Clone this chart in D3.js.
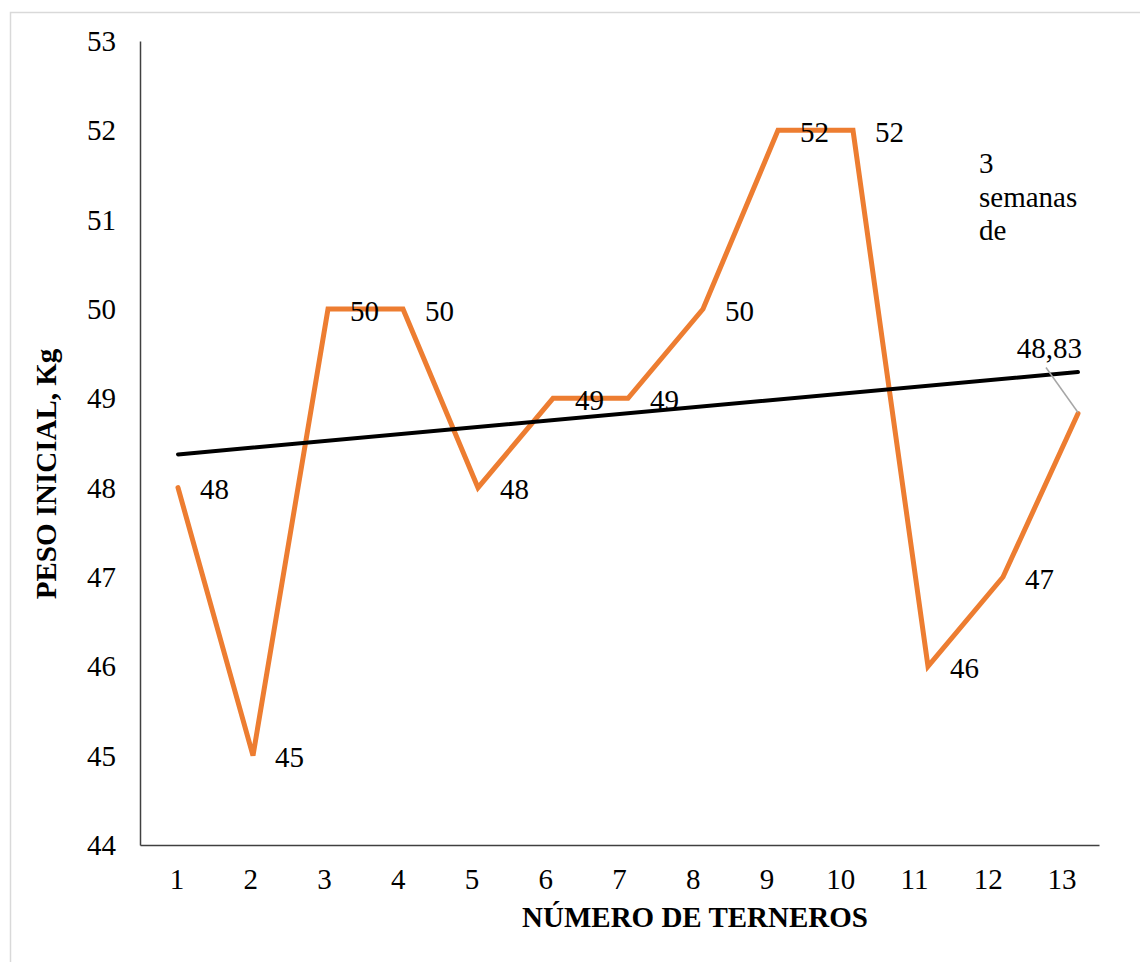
<!DOCTYPE html>
<html>
<head>
<meta charset="utf-8">
<script src="https://cdn.jsdelivr.net/npm/d3@7"></script>
<style>
  html, body { margin: 0; padding: 0; background: #fff; }
  svg { display: block; }
</style>
</head>
<body>
<svg id="chart" width="1140" height="962"></svg>
<script>
// Calf numbers and their initial weight (kg)
const terneros = ["1","2","3","4","5","6","7","8","9","10","11","12","13"];
const pesoInicial = [48, 45, 50, 50, 48, 49, 49, 50, 52, 52, 46, 47, 48.83];
const etiquetas = ["48","45","50","50","48","49","49","50","52","52","46","47","48,83"];
const yTicks = [44, 45, 46, 47, 48, 49, 50, 51, 52, 53];
const nota = ["3", "semanas", "de"];

const FONT = '"Liberation Serif", "Times New Roman", serif';
const FS = 29;

const svg = d3.select("#chart");

// Outer frame
svg.append("rect")
  .attr("x", 10.5).attr("y", 12.5)
  .attr("width", 1140).attr("height", 962)
  .attr("fill", "none").attr("stroke", "#d9d9d9").attr("stroke-width", 1.5);

const plot = { left: 140, right: 1099, top: 41, bottom: 845 };

const y = d3.scaleLinear().domain([44, 53]).range([plot.bottom, plot.top]);
const xBand = d3.scaleBand().domain(terneros).range([plot.left, plot.right]);
const x = d3.scalePoint().domain(terneros).range([178, 1078]);

// Y axis
const yAxis = svg.append("g")
  .attr("transform", `translate(${plot.left},0)`)
  .call(d3.axisLeft(y).tickValues(yTicks).tickSize(0).tickPadding(24).tickFormat(d3.format("d")));
yAxis.select(".domain").attr("stroke", "#404040").attr("stroke-width", 1.5);
yAxis.selectAll("text")
  .style("font-family", FONT).style("font-size", FS + "px").attr("fill", "#000")
  .attr("dy", "0.33em");

// X axis
const xAxis = svg.append("g")
  .attr("transform", `translate(0,${plot.bottom})`)
  .call(d3.axisBottom(xBand).tickSize(0).tickPadding(0));
xAxis.select(".domain").attr("stroke", "#404040").attr("stroke-width", 1.5);
xAxis.selectAll("text")
  .style("font-family", FONT).style("font-size", FS + "px").attr("fill", "#000")
  .attr("y", 44).attr("dy", 0);

// Axis titles
svg.append("text")
  .attr("x", 695).attr("y", 927)
  .attr("text-anchor", "middle")
  .style("font-family", FONT).style("font-size", FS + "px").style("font-weight", "bold")
  .text("NÚMERO DE TERNEROS");

svg.append("text")
  .attr("transform", "translate(56,474) rotate(-90)")
  .attr("text-anchor", "middle")
  .style("font-family", FONT).style("font-size", FS + "px").style("font-weight", "bold")
  .text("PESO INICIAL, Kg");

// Linear trend (least squares) over the series
const xs = pesoInicial.map((_, i) => i + 1);
const mx = d3.mean(xs), my = d3.mean(pesoInicial);
const slope = d3.sum(xs, (xi, i) => (xi - mx) * (pesoInicial[i] - my)) / d3.sum(xs, xi => (xi - mx) ** 2);
const trend = t => my + slope * (t - mx);

// Series line
const line = d3.line()
  .x((d, i) => x(terneros[i]))
  .y(d => y(d));

svg.append("path")
  .datum(pesoInicial)
  .attr("d", line)
  .attr("fill", "none")
  .attr("stroke", "#ED7D31")
  .attr("stroke-width", 5)
  .attr("stroke-linejoin", "miter")
  .attr("stroke-linecap", "round");

// Trend line
svg.append("line")
  .attr("x1", x(terneros[0])).attr("y1", y(trend(1)))
  .attr("x2", x(terneros[terneros.length - 1])).attr("y2", y(trend(terneros.length)))
  .attr("stroke", "#000").attr("stroke-width", 4).attr("stroke-linecap", "round");

// Data labels
const last = pesoInicial.length - 1;
svg.append("g").selectAll("text")
  .data(pesoInicial.slice(0, last))
  .join("text")
  .attr("x", (d, i) => x(terneros[i]) + 22)
  .attr("y", d => y(d) + 2)
  .attr("dy", "0.33em")
  .style("font-family", FONT).style("font-size", FS + "px")
  .text((d, i) => etiquetas[i]);

// Last label sits above with a leader line
const lx = x(terneros[last]), ly = y(pesoInicial[last]);
svg.append("line")
  .attr("x1", lx).attr("y1", ly - 1)
  .attr("x2", lx - 32).attr("y2", ly - 46)
  .attr("stroke", "#a6a6a6").attr("stroke-width", 1.5);
svg.append("text")
  .attr("x", lx + 4).attr("y", ly - 56)
  .attr("text-anchor", "end")
  .style("font-family", FONT).style("font-size", FS + "px")
  .text(etiquetas[last]);

// Side note
svg.append("g").selectAll("text")
  .data(nota)
  .join("text")
  .attr("x", 979)
  .attr("y", (d, i) => 173 + i * 33.5)
  .style("font-family", FONT).style("font-size", FS + "px")
  .text(d => d);
</script>
</body>
</html>
